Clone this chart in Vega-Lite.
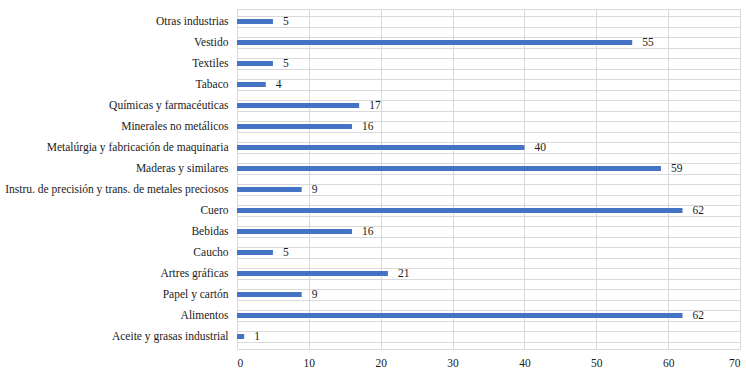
{
  "$schema": "https://vega.github.io/schema/vega-lite/v6.json",
  "autosize": {"type": "none"},
  "padding": {"left": 237, "top": 9, "right": 6, "bottom": 21},
  "width": 503,
  "height": 340,
  "background": "white",
  "config": {
    "view": {"stroke": "#d9d9d9", "strokeWidth": 1},
    "font": "Liberation Serif, Times New Roman, serif",
    "axis": {"labelFont": "Liberation Serif, Times New Roman, serif", "labelFontSize": 11.5, "labelColor": "#1a1a1a", "gridColor": "#d9d9d9", "gridWidth": 1, "ticks": false, "domain": false, "title": null},
    "text": {"font": "Liberation Serif, Times New Roman, serif"}
  },
  "data": {
    "values": [
      {"sector": "Otras industrias", "valor": 5},
      {"sector": "Vestido", "valor": 55},
      {"sector": "Textiles", "valor": 5},
      {"sector": "Tabaco", "valor": 4},
      {"sector": "Químicas y farmacéuticas", "valor": 17},
      {"sector": "Minerales no metálicos", "valor": 16},
      {"sector": "Metalúrgia y fabricación de maquinaria", "valor": 40},
      {"sector": "Maderas y similares", "valor": 59},
      {"sector": "Instru. de precisión y trans. de metales preciosos", "valor": 9},
      {"sector": "Cuero", "valor": 62},
      {"sector": "Bebidas", "valor": 16},
      {"sector": "Caucho", "valor": 5},
      {"sector": "Artres gráficas", "valor": 21},
      {"sector": "Papel y cartón", "valor": 9},
      {"sector": "Alimentos", "valor": 62},
      {"sector": "Aceite y grasas  industrial", "valor": 1}
    ]
  },
  "encoding": {
    "y": {
      "field": "sector", "type": "nominal", "sort": null,
      "scale": {"paddingInner": 0, "paddingOuter": 0, "align": 0.5, "round": true},
      "axis": {"orient": "left", "grid": false, "labelPadding": 9, "labelLimit": 300}
    }
  },
  "layer": [
    {
      "mark": {"type": "rule", "color": "#d9d9d9", "strokeWidth": 1, "yOffset": -5},
      "encoding": {"x": {"datum": 0, "type": "quantitative"}, "x2": {"datum": 70}}
    },
    {
      "mark": {"type": "rule", "color": "#d9d9d9", "strokeWidth": 1, "yOffset": 6},
      "encoding": {"x": {"datum": 0, "type": "quantitative"}, "x2": {"datum": 70}}
    },
    {
      "mark": {"type": "bar", "color": "#4472C4", "size": 5},
      "encoding": {
        "x": {
          "field": "valor", "type": "quantitative",
          "scale": {"domain": [0, 70], "nice": false},
          "axis": {"values": [0, 10, 20, 30, 40, 50, 60, 70], "grid": true, "labelPadding": 8}
        }
      }
    },
    {
      "mark": {"type": "text", "align": "left", "baseline": "middle", "dx": 10, "fontSize": 11.5, "color": "#1a1a1a"},
      "encoding": {
        "x": {"field": "valor", "type": "quantitative"},
        "text": {"field": "valor", "type": "quantitative"}
      }
    }
  ]
}
